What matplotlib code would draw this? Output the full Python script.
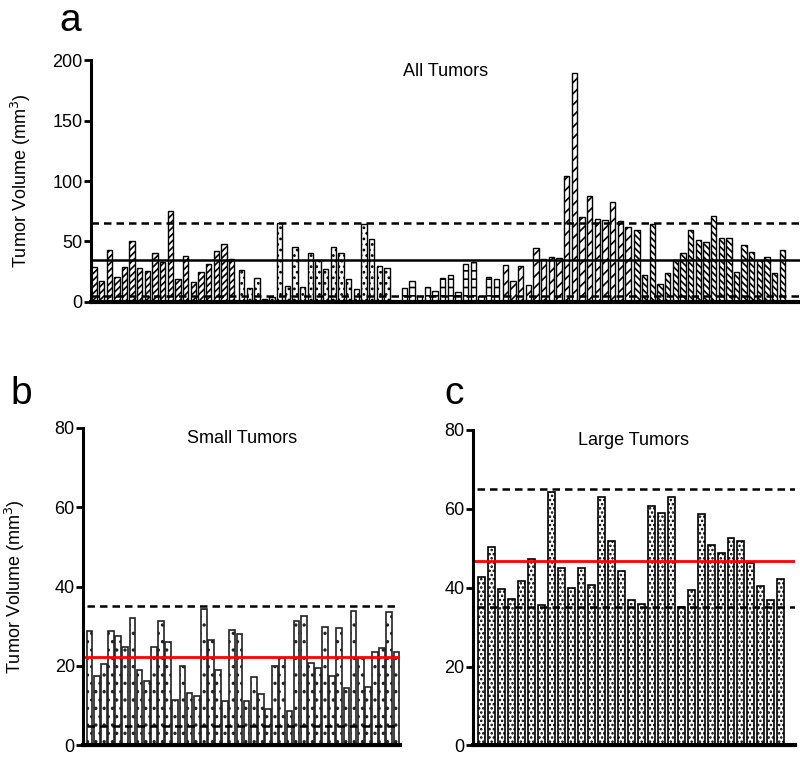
import matplotlib
matplotlib.use("Agg")
import matplotlib.pyplot as plt
import numpy as np

plt.rcParams['font.family'] = ['Liberation Sans', 'DejaVu Sans']
plt.rcParams['hatch.linewidth'] = 1.2

# panel a: all tumors, five groups of tumors
grp_a = [29, 17.7, 43, 20.8, 29, 50.8, 27.7, 25.5, 40.2, 32.7, 75, 19, 37.7,
         16.3, 25.2, 31.6, 42.2, 48, 35.2]
grp_b = [26.3, 11.3, 20, 2.7, 4, 65.2, 13, 45.2, 12.2, 40.5, 34.4, 27, 45.2,
         40.8, 18.9, 11, 64.1, 52.2, 29.4, 28.3]
grp_c = [11.3, 17.5, 5, 12.7, 9.4, 20, 22.2, 8.3, 31.4, 33, 4.7, 20.8, 19.4]
grp_d = [30.2, 17.5, 29.7, 14.1, 44.7, 35.2, 37.2, 36.4, 104, 189, 70.2, 87.4,
         68.9, 68, 82.5, 66.9, 61.6]
grp_e = [59.9, 22.2, 64.1, 14.9, 24.1, 34.7, 40.2, 59.7, 51.6, 49.7, 71.4, 53.3,
         52.8, 24.9, 47.2, 41.1, 34.7, 37.5, 24.1, 43]
hatch_a = ['/////', '...', '--', '///', '\\\\\\\\\\']
gaps_a = [0, 0.3, 1.3, 0.2, 0.2]
lines_a = [5, 35, 65]

# panel b: small tumors
small = [28.8, 17.4, 20.6, 28.8, 27.6, 24.9, 32, 18.9, 16.2, 24.7, 31.3, 26.1,
         11.4, 19.9, 13.3, 12.5, 34.3, 26.5, 18.9, 11.3, 29.1, 28.1, 11.3, 17.3,
         12.9, 9.3, 20, 22, 8.6, 31.4, 32.7, 20.7, 19.5, 29.8, 17.5, 29.6, 14.4,
         33.8, 22, 14.8, 23.5, 24.5, 33.6, 23.5]
small_mean = 22.3
small_lims = [5, 35]

# panel c: large tumors
large = [42.7, 50.2, 39.6, 37, 41.7, 47.2, 35.6, 64.3, 45, 40, 45, 40.6, 63,
         51.8, 44.3, 36.8, 35.8, 60.7, 59, 63, 35, 39.5, 58.7, 50.75, 48.7, 52.5,
         51.8, 46.3, 40.4, 36.8, 42.3]
large_mean = 46.7
large_lims = [35, 65]

fig = plt.figure(figsize=(8, 7.58), dpi=100)


def style(ax, ticks):
    for s in ['top', 'right']:
        ax.spines[s].set_visible(False)
    ax.spines['left'].set_linewidth(2.2)
    ax.spines['bottom'].set_linewidth(3)
    ax.set_xticks([])
    ax.set_yticks(ticks)
    ax.tick_params(axis='y', direction='out', length=5, width=2, labelsize=13, pad=1)


# ---- a ----
ax1 = fig.add_axes([0.114, 0.6016, 0.886, 0.3192])
start = 0
groups = [grp_a, grp_b, grp_c, grp_d, grp_e]
for vals, h, g in zip(groups, hatch_a, gaps_a):
    start += g
    x = start + np.arange(len(vals))
    ax1.bar(x, vals, width=0.7, color='white', edgecolor='black', linewidth=1, hatch=h)
    start = x[-1] + 1
ax1.axhline(lines_a[1], color='black', lw=1.8)
ax1.axhline(lines_a[0], color='black', lw=1.8, ls=(0, (3, 2)))
ax1.axhline(lines_a[2], color='black', lw=1.8, ls=(0, (3, 2)))
ax1.set_xlim(-0.35, start + 1.3)
ax1.set_ylim(0, 200)
style(ax1, [0, 50, 100, 150, 200])
ax1.set_title('All Tumors', fontsize=13, pad=-6, y=0.97)
ax1.set_ylabel('Tumor Volume (mm$^3$)', fontsize=13, labelpad=14)
fig.text(0.088, 0.972, 'a', fontsize=28, ha='center', va='center')

# ---- b ----
ax2 = fig.add_axes([0.104, 0.0165, 0.396, 0.4195])
xb = np.arange(len(small))
ax2.bar(xb, small, width=0.8, color='white', edgecolor='#222222', linewidth=1.2, hatch='..')
ax2.axhline(small_mean, color='red', lw=2)
for v in small_lims:
    ax2.axhline(v, color='black', lw=1.8, ls=(0, (3, 2)), xmin=0.012)
ax2.set_xlim(-0.9, len(small) - 0.5)
ax2.set_ylim(0, 80)
style(ax2, [0, 20, 40, 60, 80])
ax2.set_title('Small Tumors', fontsize=13, pad=-4, y=0.97)
ax2.set_ylabel('Tumor Volume (mm$^3$)', fontsize=13, labelpad=20)
fig.text(0.027, 0.48, 'b', fontsize=28, ha='center', va='center')

# ---- c ----
ax3 = fig.add_axes([0.591, 0.0165, 0.4025, 0.4165])
xc = np.arange(len(large))
ax3.bar(xc, large, width=0.7, color='white', edgecolor='black', linewidth=1.2, hatch='....')
ax3.axhline(large_mean, color='red', lw=2)
for v in large_lims:
    ax3.axhline(v, color='black', lw=1.8, ls=(0, (3, 2)), xmin=0.012)
ax3.set_xlim(-0.9, len(large) + 0.4)
ax3.set_ylim(0, 80)
style(ax3, [0, 20, 40, 60, 80])
ax3.set_title('Large Tumors', fontsize=13, pad=-4, y=0.97)
fig.text(0.568, 0.48, 'c', fontsize=28, ha='center', va='center')

fig.savefig('out.png', dpi=100)
